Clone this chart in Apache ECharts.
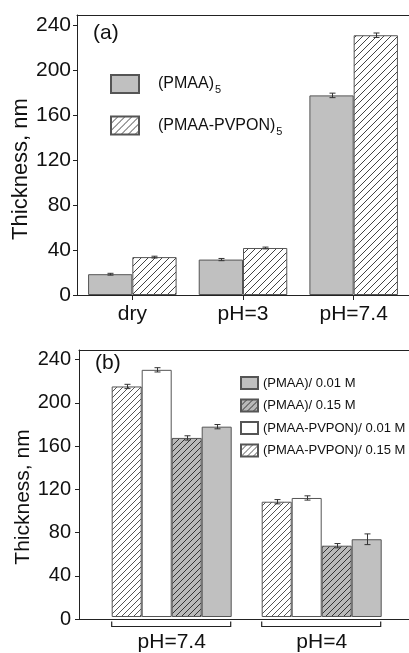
<!DOCTYPE html>
<html><head><meta charset="utf-8">
<script src="https://cdn.jsdelivr.net/npm/echarts@6/dist/echarts.min.js"></script>
<style>html,body{margin:0;padding:0;background:#fff}#c{width:409px;height:653px}</style>
</head><body><div id="c"></div>
<script>
// ---- data: panel (a)
const catsA = ['dry', 'pH=3', 'pH=7.4'];
const pmaaA = [18.5, 31.5, 177.5];
const pmaaAErr = [0.8, 1, 2];
const pvponA = [33.7, 41.8, 231];
const pvponAErr = [0.8, 0.8, 2];
// ---- data: panel (b) (bar order inside each group)
const catsB = ['pH=7.4', 'pH=4'];
const pvpon015B = [215, 107.5];
const pvpon015BErr = [2, 2];
const pvpon001B = [230.5, 111];
const pvpon001BErr = [2, 2];
const pmaa015B = [167, 66.5];
const pmaa015BErr = [2, 2];
const pmaa001B = [177.5, 72.5];
const pmaa001BErr = [2, 5];
const yTicks = [0, 40, 80, 120, 160, 200, 240];
const yMax = 249;

const FONT = '"Liberation Sans", Arial, Helvetica, sans-serif';
const AX = '#222';

function hatch(bg, fg, size) {
  const c = document.createElement('canvas');
  c.width = c.height = size;
  const g = c.getContext('2d');
  g.fillStyle = bg; g.fillRect(0, 0, size, size);
  g.strokeStyle = fg; g.lineWidth = 1;
  g.beginPath();
  g.moveTo(0, size); g.lineTo(size, 0);
  g.moveTo(-1, 1); g.lineTo(1, -1);
  g.moveTo(size - 1, size + 1); g.lineTo(size + 1, size - 1);
  g.stroke();
  return { image: c, repeat: 'repeat' };
}
const GRAY = '#c0c0c0';
const hatchWhiteA = hatch('#ffffff', '#444', 7);
const hatchWhiteB = hatch('#ffffff', '#555', 6);
const hatchGrayB = hatch('#b9b9b9', '#333', 6);

function errData(vals, errs) { return vals.map((v, i) => [i, v, errs[i]]); }
function errRender(offsetFn) {
  return function (params, api) {
    const x = api.value(0), v = api.value(1), e = api.value(2);
    const band = api.size([1, 0])[0];
    const off = offsetFn(band);
    const top = api.coord([x, v + e]);
    const bot = api.coord([x, v - e]);
    const cx = Math.round(top[0] + off) + 0.5;
    const st = { stroke: '#333', lineWidth: 1 };
    return { type: 'group', children: [
      { type: 'line', shape: { x1: cx, y1: top[1], x2: cx, y2: bot[1] }, style: st },
      { type: 'line', shape: { x1: cx - 3, y1: top[1], x2: cx + 3, y2: top[1] }, style: st },
      { type: 'line', shape: { x1: cx - 3, y1: bot[1], x2: cx + 3, y2: bot[1] }, style: st }
    ] };
  };
}

const yAxisBase = (grid, show, fs, margin) => ({
  type: 'value', gridIndex: grid, min: 0, max: yMax, show: show,
  splitLine: { show: false },
  axisLine: { show: true, lineStyle: { color: AX, width: 1 } },
  axisTick: { show: true, inside: false, length: 4, customValues: yTicks, lineStyle: { color: AX } },
  axisLabel: { show: true, customValues: yTicks, fontSize: fs, color: '#111', fontFamily: FONT, margin: margin }
});

const borderStyle = { borderColor: '#555', borderWidth: 1 };

const chart = echarts.init(document.getElementById('c'), null, { renderer: 'canvas' });
chart.setOption({
  animation: false,
  backgroundColor: '#fff',
  grid: [
    { left: 77, top: 15, width: 333, height: 280 },
    { left: 79, top: 350, width: 331, height: 269 },
    { left: 96.7, top: 350, width: 300, height: 269 }
  ],
  xAxis: [
    { type: 'category', gridIndex: 0, data: catsA, position: 'bottom',
      axisLine: { lineStyle: { color: AX, width: 1 } },
      axisTick: { show: true, alignWithLabel: true, length: 5, lineStyle: { color: AX } },
      axisLabel: { fontSize: 21, color: '#111', fontFamily: FONT, margin: 9 } },
    { type: 'category', gridIndex: 0, data: catsA, position: 'top',
      axisLine: { lineStyle: { color: AX, width: 1 } }, axisTick: { show: false }, axisLabel: { show: false } },
    { type: 'category', gridIndex: 1, data: [''], position: 'bottom',
      axisLine: { lineStyle: { color: AX, width: 1 } }, axisTick: { show: false }, axisLabel: { show: false } },
    { type: 'category', gridIndex: 1, data: [''], position: 'top',
      axisLine: { lineStyle: { color: AX, width: 1 } }, axisTick: { show: false }, axisLabel: { show: false } },
    { type: 'category', gridIndex: 2, data: catsB, position: 'bottom',
      axisLine: { show: false }, axisTick: { show: false },
      axisLabel: { fontSize: 21, color: '#111', fontFamily: FONT, margin: 15 } }
  ],
  yAxis: [
    yAxisBase(0, true, 21, 6),
    yAxisBase(1, true, 20, 8),
    yAxisBase(2, false, 20, 8)
  ],
  legend: [
    { orient: 'vertical', left: 105, top: 69, itemWidth: 28, itemHeight: 18, itemGap: 20, icon: 'rect',
      data: ['(PMAA)', '(PMAA-PVPON)'], selectedMode: false,
      formatter: n => '{t|' + n + '}{s|5}',
      textStyle: { color: '#111', fontFamily: FONT, rich: {
        t: { fontSize: 16, fontFamily: FONT, color: '#111', padding: [0, 0, 0, 14] },
        s: { fontSize: 11, fontFamily: FONT, color: '#111', padding: [12, 0, 0, 1] } } } },
    { orient: 'vertical', left: 235, top: 371, itemWidth: 17, itemHeight: 12, itemGap: 8.5, icon: 'rect',
      data: ['(PMAA)/ 0.01 M', '(PMAA)/ 0.15 M', '(PMAA-PVPON)/ 0.01 M', '(PMAA-PVPON)/ 0.15 M'],
      selectedMode: false,
      textStyle: { fontSize: 13, color: '#111', fontFamily: FONT } }
  ],
  series: [
    { type: 'bar', name: '(PMAA)', xAxisIndex: 0, yAxisIndex: 0, data: pmaaA,
      barGap: 0, barCategoryGap: '20%', itemStyle: Object.assign({ color: GRAY }, borderStyle) },
    { type: 'bar', name: '(PMAA-PVPON)', xAxisIndex: 0, yAxisIndex: 0, data: pvponA,
      barGap: 0, barCategoryGap: '20%', itemStyle: Object.assign({ color: hatchWhiteA }, borderStyle) },
    { type: 'custom', xAxisIndex: 0, yAxisIndex: 0, data: errData(pmaaA, pmaaAErr), z: 5,
      renderItem: errRender(b => -0.5 * b * 0.4) },
    { type: 'custom', xAxisIndex: 0, yAxisIndex: 0, data: errData(pvponA, pvponAErr), z: 5,
      renderItem: errRender(b => 0.5 * b * 0.4) },

    { type: 'bar', name: '(PMAA-PVPON)/ 0.15 M', xAxisIndex: 4, yAxisIndex: 2, data: pvpon015B,
      barWidth: 30, barGap: 0, itemStyle: Object.assign({ color: hatchWhiteB }, borderStyle) },
    { type: 'bar', name: '(PMAA-PVPON)/ 0.01 M', xAxisIndex: 4, yAxisIndex: 2, data: pvpon001B,
      barWidth: 30, barGap: 0, itemStyle: Object.assign({ color: '#ffffff' }, borderStyle) },
    { type: 'bar', name: '(PMAA)/ 0.15 M', xAxisIndex: 4, yAxisIndex: 2, data: pmaa015B,
      barWidth: 30, barGap: 0, itemStyle: Object.assign({ color: hatchGrayB }, borderStyle) },
    { type: 'bar', name: '(PMAA)/ 0.01 M', xAxisIndex: 4, yAxisIndex: 2, data: pmaa001B,
      barWidth: 30, barGap: 0, itemStyle: Object.assign({ color: GRAY }, borderStyle) },
    { type: 'custom', xAxisIndex: 4, yAxisIndex: 2, data: errData(pvpon015B, pvpon015BErr), z: 5,
      renderItem: errRender(b => -45) },
    { type: 'custom', xAxisIndex: 4, yAxisIndex: 2, data: errData(pvpon001B, pvpon001BErr), z: 5,
      renderItem: errRender(b => -15) },
    { type: 'custom', xAxisIndex: 4, yAxisIndex: 2, data: errData(pmaa015B, pmaa015BErr), z: 5,
      renderItem: errRender(b => 15) },
    { type: 'custom', xAxisIndex: 4, yAxisIndex: 2, data: errData(pmaa001B, pmaa001BErr), z: 5,
      renderItem: errRender(b => 45) }
  ]
});

// decorations: panel letters, axis titles, group brackets (positions from the axes)
const gfx = [
  { type: 'text', x: 93, y: 33, style: { text: '(a)', font: '21px ' + FONT, fill: '#111', verticalAlign: 'middle' } },
  { type: 'text', x: 95, y: 363, style: { text: '(b)', font: '21px ' + FONT, fill: '#111', verticalAlign: 'middle' } },
  { type: 'text', x: 21, y: 169, rotation: Math.PI / 2, style: { text: 'Thickness, nm', font: '22px ' + FONT, fill: '#111', align: 'center', verticalAlign: 'middle' } },
  { type: 'text', x: 23, y: 497, rotation: Math.PI / 2, style: { text: 'Thickness, nm', font: '21px ' + FONT, fill: '#111', align: 'center', verticalAlign: 'middle' } }
];
catsB.forEach(c => {
  const cx = chart.convertToPixel({ xAxisIndex: 4 }, c);
  const y0 = chart.convertToPixel({ yAxisIndex: 2 }, 0);
  const yb = Math.round(y0 + 9) + 0.5;
  gfx.push({ type: 'polyline', shape: { points: [[cx - 60, yb - 5], [cx - 60, yb], [cx + 59, yb], [cx + 59, yb - 5]] },
    style: { stroke: '#222', lineWidth: 1.2, fill: null } });
});
chart.setOption({ graphic: gfx });
</script>
</body></html>
